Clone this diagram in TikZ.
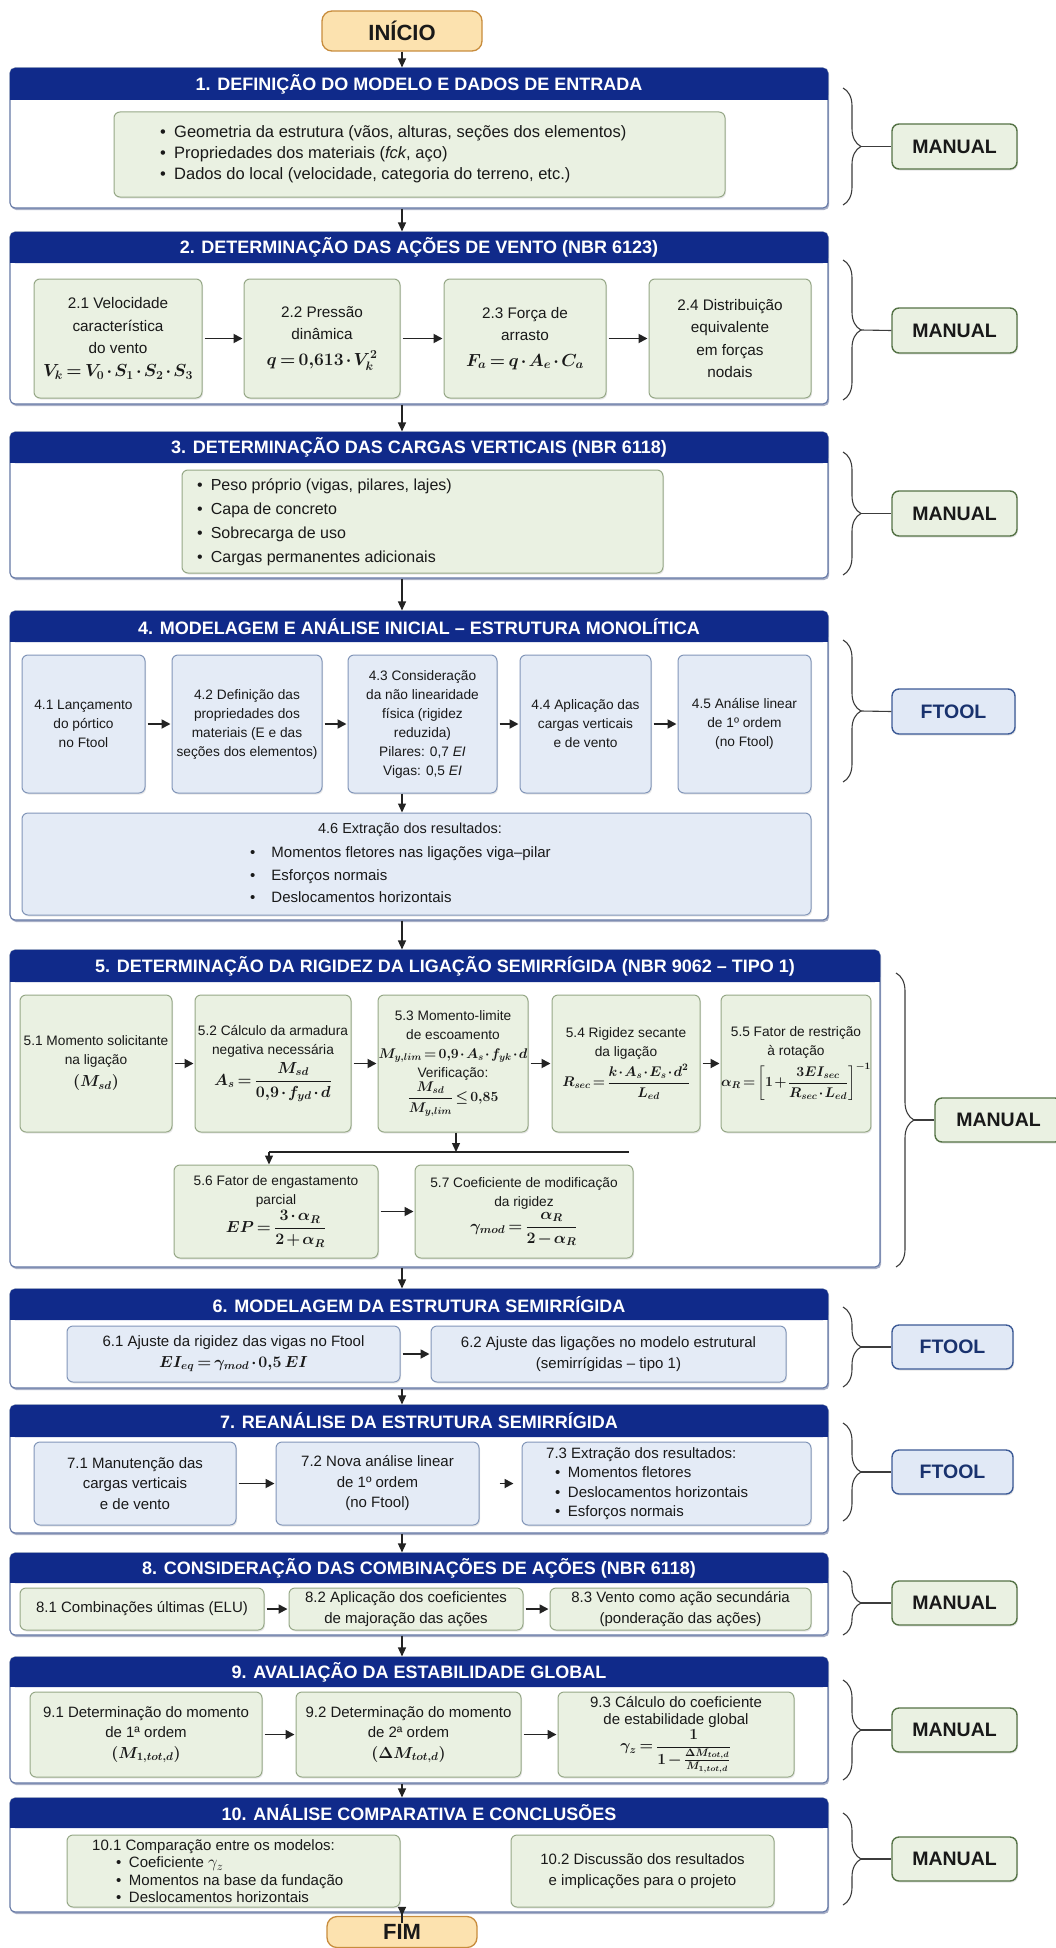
\RequirePackage{fix-cm}
\documentclass[tikz,border=0pt]{standalone}
\usepackage{amsmath}
\usepackage{graphicx}
\usepackage[no-math]{fontspec}
\setmainfont{Liberation Sans}
\usetikzlibrary{arrows.meta,decorations.pathreplacing,shadows}
\definecolor{navy}{RGB}{16,42,138}
\definecolor{secb}{RGB}{100,120,165}
\definecolor{gfill}{RGB}{234,241,226}
\definecolor{gdraw}{RGB}{150,168,135}
\definecolor{bfill}{RGB}{228,235,246}
\definecolor{bdraw}{RGB}{130,150,185}
\definecolor{tgd}{RGB}{85,115,70}
\definecolor{tbd}{RGB}{60,90,150}
\definecolor{tbf}{RGB}{225,233,246}
\definecolor{tbt}{RGB}{25,50,110}
\definecolor{termf}{RGB}{252,226,175}
\definecolor{termd}{RGB}{200,140,60}
\definecolor{arrc}{RGB}{35,35,35}
\definecolor{brcc}{RGB}{60,60,60}
\definecolor{txtc}{RGB}{25,25,25}
\newcommand\myhf{\fontsize{18}{20}\selectfont\bfseries}
\newcommand\myfa{\fontsize{16.5}{21}\selectfont}
\newcommand\myfb{\fontsize{15.3}{22.5}\selectfont}
\newcommand\myfc{\fontsize{13.7}{19}\selectfont}
\newcommand\myfd{\fontsize{15}{20.5}\selectfont}
\newcommand\myfe{\fontsize{15}{22.5}\selectfont}
\newcommand\mytagf{\fontsize{19.5}{22}\selectfont\bfseries}
\newcommand\mytermf{\fontsize{22}{24}\selectfont\bfseries}
\newcommand\mA{\fontsize{17.5}{20}\selectfont\boldmath\medmuskip=2mu\thickmuskip=3mu}
\newcommand\mB{\fontsize{14}{16}\selectfont\boldmath\medmuskip=1.5mu\thickmuskip=2.5mu}
\newcommand\mC{\fontsize{16}{18}\selectfont\boldmath\medmuskip=2mu\thickmuskip=3mu}
\newcommand\mD{\fontsize{15.5}{17}\selectfont\boldmath\medmuskip=2mu\thickmuskip=3mu}
% name x1 y1 x2 y2 style text
\newcommand\bx[7]{\node[#6, minimum width={(#4)-(#2)}, minimum height={(#5)-(#3)}] (#1) at ({((#2)+(#4))/2},{((#3)+(#5))/2}) {#7};}
% name x1 y1 x2 y2 text
\newcommand\hdr[6]{%
 \fill[navy, rounded corners=5pt] (#2,#3) rectangle (#4,#5);
 \fill[navy] (#2,{(#3)+10}) rectangle (#4,#5);
 \node[hdrtext] (#1) at ({((#2)+(#4))/2},{((#3)+(#5))/2}) {#6};}
% tipname x ytop ybot target
\newcommand\brc[5]{%
 \draw[brcs] (#2,#3) -- (#2,#4);
 \coordinate (#1) at ({(#2)+18},{((#3)+(#4))/2});
 \draw[brline] (#1) -- (#5.west);}
\begin{document}
\begin{tikzpicture}[x=1pt,y=-1pt,
 every node/.style={text=txtc},
 sec/.style={draw=secb, line width=1.1pt, fill=white, rounded corners=5pt, inner sep=0pt,
   drop shadow={shadow xshift=1.2pt, shadow yshift=-2pt, opacity=0.35, fill=navy!70!black}},
 hdrtext/.style={text=white, font=\myhf, inner sep=0pt},
 gb/.style={draw=gdraw, fill=gfill, line width=1pt, rounded corners=6pt, inner sep=0pt, align=center,
   drop shadow={shadow xshift=1pt, shadow yshift=-1.5pt, opacity=0.18}},
 bb/.style={draw=bdraw, fill=bfill, line width=1pt, rounded corners=6pt, inner sep=0pt, align=center,
   drop shadow={shadow xshift=1pt, shadow yshift=-1.5pt, opacity=0.18}},
 tagg/.style={draw=tgd, fill=gfill, line width=1.4pt, rounded corners=7pt, inner sep=0pt, font=\mytagf,
   drop shadow={shadow xshift=1pt, shadow yshift=-1.5pt, opacity=0.2}},
 tagb/.style={draw=tbd, fill=tbf, line width=1.4pt, rounded corners=7pt, inner sep=0pt, font=\mytagf, text=tbt,
   drop shadow={shadow xshift=1pt, shadow yshift=-1.5pt, opacity=0.2}},
 term/.style={draw=termd, fill=termf, line width=1.3pt, rounded corners=10pt, inner sep=0pt, font=\mytermf},
 arr/.style={draw=arrc, line width=1.3pt, -{Triangle[length=9pt,width=8pt]}},
 harr/.style={draw=arrc, line width=1.8pt, -{Triangle[length=9pt,width=9pt]}, shorten <=2pt, shorten >=1pt},
 brcs/.style={draw=brcc, line width=1.1pt, decorate, decoration={brace, amplitude=18pt}},
 brline/.style={draw=brcc, line width=1.1pt},
 lbl/.style={inner sep=0pt, align=left, anchor=west},
]
\fill[white] (0,0) rectangle (1055,1948);
\useasboundingbox (0,0) rectangle (1055,1948);
\coordinate (spine) at (402,0);

% ---------- start
\node[term, minimum width=160, minimum height=40] (ini) at (402,31) {INÍCIO};

% ---------- 1
\bx{s1}{10}{68}{828}{208}{sec}{}
\hdr{h1}{10}{68}{828}{100}{1. DEFINIÇÃO DO MODELO E DADOS DE ENTRADA}
\bx{g1}{114}{112}{725}{197}{gb}{}
\node[lbl, font=\myfa] (t1) at (160,154.5) {\textbullet\enspace Geometria da estrutura (vãos, alturas, seções dos elementos)\\
\textbullet\enspace Propriedades dos materiais (\textit{fck}, aço)\\
\textbullet\enspace Dados do local (velocidade, categoria do terreno, etc.)};
\bx{m1}{892}{124}{1017}{169}{tagg}{MANUAL}
\brc{b1}{843}{88}{205}{m1}
\draw[arr] (ini.south) -- (s1.north -| spine);

% ---------- 2
\bx{s2}{10}{232}{828}{404}{sec}{}
\hdr{h2}{10}{232}{828}{263}{2. DETERMINAÇÃO DAS AÇÕES DE VENTO (NBR 6123)}
\bx{n21}{34}{279}{202}{398}{gb,font=\myfb}{2.1 Velocidade\\característica\\do vento\\{\mA$V_k = V_0 \cdot S_1 \cdot S_2 \cdot S_3$}}
\bx{n22}{244}{279}{400}{398}{gb,font=\myfb}{2.2 Pressão\\dinâmica\\[3pt]{\mA$q = 0{,}613 \cdot V_k^{2}$}}
\bx{n23}{444}{279}{606}{398}{gb,font=\myfb}{2.3 Força de\\arrasto\\[3pt]{\mA$F_a = q \cdot A_e \cdot C_a$}}
\bx{n24}{649}{279}{811}{398}{gb,font=\myfb}{2.4 Distribuição\\equivalente\\em forças\\nodais}
\draw[harr] (n21.east) -- (n22.west);
\draw[harr] (n22.east) -- (n23.west);
\draw[harr] (n23.east) -- (n24.west);
\bx{m2}{892}{308}{1017}{353}{tagg}{MANUAL}
\brc{b2}{843}{260}{400}{m2}
\draw[arr] (s1.south -| spine) -- (s2.north -| spine);

% ---------- 3
\bx{s3}{10}{432}{828}{578}{sec}{}
\hdr{h3}{10}{432}{828}{463}{3. DETERMINAÇÃO DAS CARGAS VERTICAIS (NBR 6118)}
\bx{g3}{182}{470}{663}{573}{gb}{}
\node[lbl, font=\fontsize{16}{24}\selectfont] (t3) at (197,522) {\textbullet\enspace Peso próprio (vigas, pilares, lajes)\\
\textbullet\enspace Capa de concreto\\
\textbullet\enspace Sobrecarga de uso\\
\textbullet\enspace Cargas permanentes adicionais};
\bx{m3}{892}{491}{1017}{536}{tagg}{MANUAL}
\brc{b3}{843}{452}{575}{m3}
\draw[arr] (s2.south -| spine) -- (s3.north -| spine);

% ---------- 4
\bx{s4}{10}{611}{828}{920}{sec}{}
\hdr{h4}{10}{611}{828}{642}{4. MODELAGEM E ANÁLISE INICIAL – ESTRUTURA MONOLÍTICA}
\bx{n41}{22}{655}{145}{793}{bb,font=\myfc}{4.1 Lançamento\\do pórtico\\no Ftool}
\bx{n42}{172}{655}{322}{793}{bb,font=\myfc}{4.2 Definição das\\propriedades dos\\materiais (E e das\\seções dos elementos)}
\bx{n43}{348}{655}{497}{793}{bb,font=\myfc}{4.3 Consideração\\da não linearidade\\física (rigidez\\reduzida)\\Pilares: 0,7 \textit{EI}\\Vigas: 0,5 \textit{EI}}
\bx{n44}{520}{655}{651}{793}{bb,font=\myfc}{4.4 Aplicação das\\cargas verticais\\e de vento}
\bx{n45}{678}{655}{811}{793}{bb,font=\myfc}{4.5 Análise linear\\de 1º ordem\\(no Ftool)}
\draw[harr] (n41.east) -- (n42.west);
\draw[harr] (n42.east) -- (n43.west);
\draw[harr] (n43.east) -- (n44.west);
\draw[harr] (n44.east) -- (n45.west);
\bx{n46}{22}{813}{811}{915}{bb}{}
\node[inner sep=0pt, font=\fontsize{14.5}{17}\selectfont] (t46a) at (410,830) {4.6 Extração dos resultados:};
\node[lbl, font=\myfe] (t46b) at (250,875) {\textbullet\hspace{16pt}Momentos fletores nas ligações viga–pilar\\
\textbullet\hspace{16pt}Esforços normais\\
\textbullet\hspace{16pt}Deslocamentos horizontais};
\draw[arr] (n43.south -| spine) -- (n46.north -| spine);
\bx{f4}{892}{689}{1015}{734}{tagb}{FTOOL}
\brc{b4}{843}{640}{782}{f4}
\draw[arr] (s3.south -| spine) -- (s4.north -| spine);

% ---------- 5
\bx{s5}{10}{950}{880}{1267}{sec}{}
\hdr{h5}{10}{950}{880}{982}{5. DETERMINAÇÃO DA RIGIDEZ DA LIGAÇÃO SEMIRRÍGIDA (NBR 9062 – TIPO 1)}
\bx{n51}{20}{995}{172}{1132}{gb,font=\myfc}{5.1 Momento solicitante\\na ligação\\[3pt]{\mC$(M_{sd})$}}
\bx{n52}{195}{995}{351}{1132}{gb,font=\myfc}{5.2 Cálculo da armadura\\negativa necessária\\[4pt]{\mC$A_s = \dfrac{M_{sd}}{0{,}9 \cdot f_{yd} \cdot d}$}}
\bx{n53}{378}{995}{528}{1132}{gb,font=\myfc}{5.3 Momento-limite\\de escoamento\\{\mB$M_{y,lim} = 0{,}9 \cdot A_s \cdot f_{yk} \cdot d$}\\Verificação:\\{\mB$\dfrac{M_{sd}}{M_{y,lim}} \le 0{,}85$}}
\bx{n54}{552}{995}{700}{1132}{gb,font=\myfc}{5.4 Rigidez secante\\da ligação\\[4pt]{\mB$R_{sec} = \dfrac{k \cdot A_s \cdot E_s \cdot d^2}{L_{ed}}$}}
\bx{n55}{723}{995}{869}{1132}{gb,font=\myfc}{5.5 Fator de restrição\\à rotação\\[4pt]{\mB$\alpha_R = \left[1 + \dfrac{3EI_{sec}}{R_{sec} \cdot L_{ed}}\right]^{-1}$}}
\draw[harr] (n51.east) -- (n52.west);
\draw[harr] (n52.east) -- (n53.west);
\draw[harr] (n53.east) -- (n54.west);
\draw[harr] (n54.east) -- (n55.west);
\coordinate (j5) at (456,1152);
\coordinate (jl) at (269,1152);
\coordinate (jr) at (629,1152);
\bx{n56}{174}{1165}{378}{1258}{gb,font=\myfc}{5.6 Fator de engastamento\\parcial\\[2pt]{\mC$EP = \dfrac{3 \cdot \alpha_R}{2 + \alpha_R}$}}
\bx{n57}{415}{1165}{633}{1258}{gb,font=\myfc}{5.7 Coeficiente de modificação\\da rigidez\\[2pt]{\mC$\gamma_{mod} = \dfrac{\alpha_R}{2 - \alpha_R}$}}
\draw[arr] (n53.south -| j5) -- (j5);
\draw[draw=arrc, line width=2.6pt] (jl) -- (jr);
\draw[arr] (jl) -- (n56.north -| jl);
\draw[harr] (n56.east) -- (n57.west);
\bx{m5}{935}{1098}{1062}{1142}{tagg}{MANUAL}
\brc{b5}{896}{973}{1267}{m5}
\draw[arr] (s4.south -| spine) -- (s5.north -| spine);

% ---------- 6
\bx{s6}{10}{1289}{828}{1388}{sec}{}
\hdr{h6}{10}{1289}{828}{1320}{6. MODELAGEM DA ESTRUTURA SEMIRRÍGIDA}
\bx{n61}{67}{1326}{400}{1382}{bb,font=\myfd}{6.1 Ajuste da rigidez das vigas no Ftool\\{\mC$EI_{eq} = \gamma_{mod} \cdot 0{,}5\,EI$}}
\bx{n62}{431}{1326}{786}{1382}{bb,font=\myfd}{6.2 Ajuste das ligações no modelo estrutural\\(semirrígidas – tipo 1)}
\draw[harr] (n61.east) -- (n62.west);
\bx{f6}{892}{1325}{1013}{1369}{tagb}{FTOOL}
\brc{b6}{843}{1307}{1387}{f6}
\draw[arr] (s5.south -| spine) -- (s6.north -| spine);

% ---------- 7
\bx{s7}{10}{1405}{828}{1533}{sec}{}
\hdr{h7}{10}{1405}{828}{1437}{7. REANÁLISE DA ESTRUTURA SEMIRRÍGIDA}
\bx{n71}{34}{1442}{236}{1525}{bb,font=\myfd}{7.1 Manutenção das\\cargas verticais\\e de vento}
\bx{n72}{276}{1442}{479}{1525}{bb,font=\myfd}{7.2 Nova análise linear\\de 1º ordem\\(no Ftool)}
\bx{n73}{522}{1442}{811}{1525}{bb}{}
\node[lbl, font=\fontsize{15}{19.5}\selectfont] (t73) at (546,1483.5) {7.3 Extração dos resultados:\\
\hspace{9pt}\textbullet\enspace Momentos fletores\\
\hspace{9pt}\textbullet\enspace Deslocamentos horizontais\\
\hspace{9pt}\textbullet\enspace Esforços normais};
\draw[harr] (n71.east) -- (n72.west);
\draw[harr, shorten <=20pt, shorten >=8pt] (n72.east) -- (n73.west);
\bx{f7}{892}{1450}{1013}{1494}{tagb}{FTOOL}
\brc{b7}{843}{1423}{1521}{f7}
\draw[arr] (s6.south -| spine) -- (s7.north -| spine);

% ---------- 8
\bx{s8}{10}{1553}{828}{1635}{sec}{}
\hdr{h8}{10}{1553}{828}{1583}{8. CONSIDERAÇÃO DAS COMBINAÇÕES DE AÇÕES (NBR 6118)}
\bx{n81}{20}{1588}{264}{1630}{gb,font=\myfd}{8.1 Combinações últimas (ELU)}
\bx{n82}{289}{1588}{523}{1630}{gb,font=\myfd}{8.2 Aplicação dos coeficientes\\de majoração das ações}
\bx{n83}{550}{1588}{811}{1630}{gb,font=\myfd}{8.3 Vento como ação secundária\\(ponderação das ações)}
\draw[harr] (n81.east) -- (n82.west);
\draw[harr] (n82.east) -- (n83.west);
\bx{m8}{892}{1581}{1017}{1625}{tagg}{MANUAL}
\brc{b8}{843}{1571}{1635}{m8}
\draw[arr] (s7.south -| spine) -- (s8.north -| spine);

% ---------- 9
\bx{s9}{10}{1657}{828}{1783}{sec}{}
\hdr{h9}{10}{1657}{828}{1687}{9. AVALIAÇÃO DA ESTABILIDADE GLOBAL}
\bx{n91}{30}{1692}{262}{1777}{gb,font=\myfd}{9.1 Determinação do momento\\de 1ª ordem\\{\mC$(M_{1,tot,d})$}}
\bx{n92}{296}{1692}{521}{1777}{gb,font=\myfd}{9.2 Determinação do momento\\de 2ª ordem\\{\mC$(\Delta M_{tot,d})$}}
\bx{n93}{558}{1692}{794}{1777}{gb,font=\fontsize{15}{17}\selectfont}{9.3 Cálculo do coeficiente\\de estabilidade global\\[1pt]{\mD$\gamma_z = \dfrac{1}{1 - \frac{\Delta M_{tot,d}}{M_{1,tot,d}}}$}}
\draw[harr] (n91.east) -- (n92.west);
\draw[harr] (n92.east) -- (n93.west);
\bx{m9}{892}{1708}{1017}{1752}{tagg}{MANUAL}
\brc{b9}{843}{1680}{1780}{m9}
\draw[arr] (s8.south -| spine) -- (s9.north -| spine);

% ---------- 10
\bx{s10}{10}{1798}{828}{1912}{sec}{}
\hdr{h10}{10}{1798}{828}{1828}{10. ANÁLISE COMPARATIVA E CONCLUSÕES}
\bx{n101}{67}{1835}{400}{1907}{gb}{}
\node[lbl, font=\fontsize{15}{17.5}\selectfont] (t101) at (92,1871) {10.1 Comparação entre os modelos:\\
\hspace{24pt}\textbullet\enspace Coeficiente {\fontsize{17}{17.5}\selectfont$\gamma_z$}\\
\hspace{24pt}\textbullet\enspace Momentos na base da fundação\\
\hspace{24pt}\textbullet\enspace Deslocamentos horizontais};
\bx{n102}{511}{1835}{774}{1907}{gb,font=\myfd}{10.2 Discussão dos resultados\\e implicações para o projeto}
\bx{m10}{892}{1837}{1017}{1881}{tagg}{MANUAL}
\brc{b10}{843}{1813}{1905}{m10}
\draw[arr] (s9.south -| spine) -- (s10.north -| spine);

% ---------- end
\node[term, minimum width=150, minimum height=31] (fim) at (402,1932) {FIM};
\draw[arr, shorten <=-10pt] (s10.south -| spine) -- (fim.north);
\end{tikzpicture}
\end{document}
